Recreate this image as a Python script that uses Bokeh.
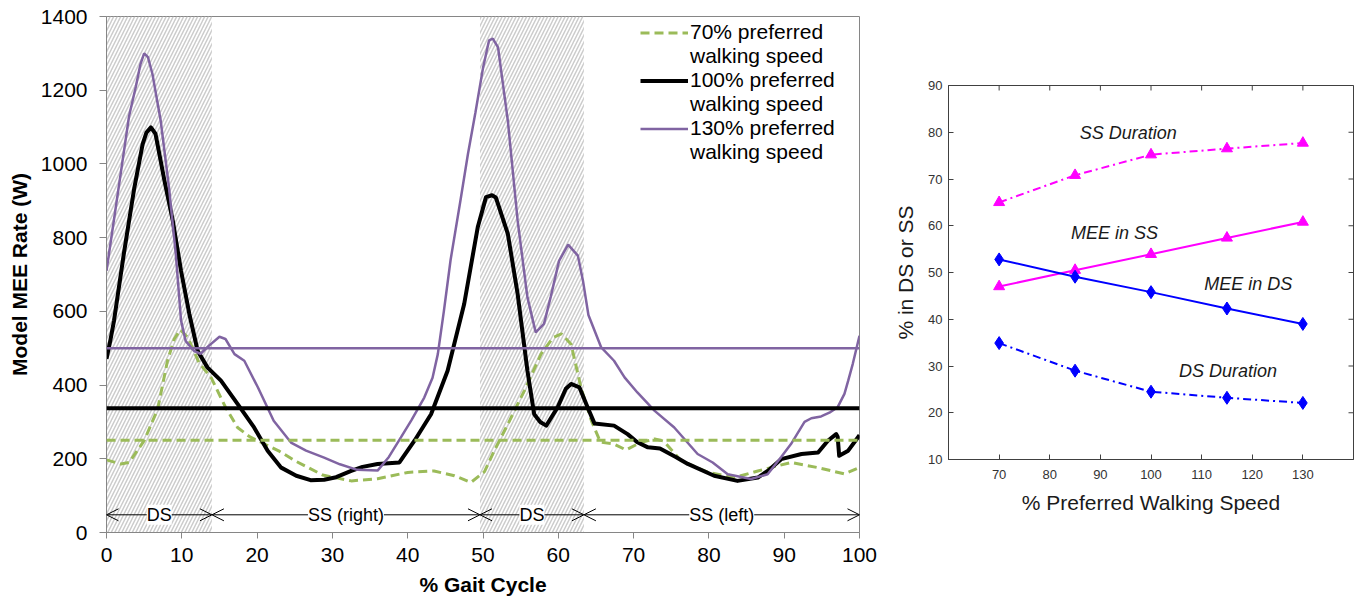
import math
from bokeh.plotting import figure
from bokeh.models import (Span, BoxAnnotation, Arrow, OpenHead, Label, Legend, LegendItem,
                          FixedTicker, Range1d, Spacer)
from bokeh.layouts import row, column
from bokeh.embed import file_html
from bokeh.resources import INLINE

FONT = "Liberation Sans"

# ---------------- Left chart data: Model MEE rate over the gait cycle ----------------
gait_x_130 = [0, 1, 2, 3, 3.9, 4.5, 5.0, 5.5, 6.1, 7.2, 8.3, 9.2, 9.9, 10.5, 11.6, 12.5, 13.5,
              15.0, 15.8, 17.0, 18.3, 20.1, 22.2, 24.5, 26.5, 28.9, 31.0, 33.3, 36.0, 37.5,
              39.1, 40.5, 42.2, 43.3, 44.0, 44.8, 45.7, 47.0, 48.0, 49.0, 50.0, 50.8, 51.3,
              52.0, 53.3, 54.6, 55.9, 57.0, 58.1, 59.0, 60.1, 61.3, 62.6, 63.3, 64.0, 65.7,
              67.4, 68.8, 70.5, 72.8, 75.4, 78.5, 80.5, 82.5, 85.6, 87.8, 89.6, 90.9, 92.7,
              93.6, 94.9, 96.0, 97.1, 98.0, 98.5, 99.1, 100]
mee_130 = [710, 850, 990, 1130, 1210, 1270, 1300, 1290, 1244, 1117, 936, 756, 575, 520, 493,
           485, 505, 531, 525, 484, 466, 394, 303, 244, 222, 203, 185, 170, 168, 205,
           258, 305, 366, 420, 484, 600, 740, 900, 1027, 1140, 1260, 1335, 1340,
           1316, 1117, 846, 638, 543, 566, 640, 737, 781, 751, 680, 590, 502,
           466, 421, 380, 330, 285, 213, 190, 158, 145, 158, 205, 240, 300,
           310, 315, 325, 340, 376, 412, 457, 534]

gait_x_100 = [0, 0.5, 1.0, 2.3, 3.7, 4.8, 5.3, 5.9, 6.5, 7.7, 8.8, 9.9, 11.0, 12.1, 13.4, 15.2,
              17.4, 19.6, 21.4, 23.2, 25.2, 27.1, 28.9, 30.5, 32.5, 34.0, 36.0, 38.9, 40.9,
              43.1, 45.3, 47.5, 49.3, 50.4, 51.2, 51.7, 53.3, 54.6, 55.9, 56.8, 57.6, 58.4,
              59.9, 61.0, 61.7, 62.8, 63.9, 64.8, 67.4, 69.2, 70.5, 71.9, 73.5, 75.6, 77.2,
              80.7, 83.8, 86.5, 88.0, 89.6, 92.3, 94.5, 95.8, 96.9, 97.1, 97.3, 98.5, 100]
mee_100 = [471, 520, 575, 756, 936, 1054, 1085, 1099, 1082, 954, 846, 710, 593, 493, 448, 412,
           349, 285, 222, 176, 154, 142, 143, 150, 167, 178, 186, 190, 249,
           321, 439, 620, 828, 910, 915, 909, 810, 647, 439, 321, 300, 290,
           339, 390, 403, 394, 339, 296, 290, 267, 245, 231, 228, 205, 186,
           154, 140, 149, 170, 199, 213, 217, 249, 267, 260, 208, 222, 264]

gait_x_70 = [0, 1.9, 3.0, 5.0, 6.8, 8.1, 9.0, 9.8, 10.8, 12.3, 13.9, 15.8, 17.4, 19.0, 21.4,
             23.0, 25.0, 28.7, 32.5, 36.0, 40.0, 43.5, 46.2, 48.4, 50.2, 51.5, 53.3, 55.5,
             57.7, 59.3, 60.4, 61.7, 63.0, 64.4, 65.6, 67.4, 69.0, 70.8, 72.8, 74.0, 76.3,
             79.9, 83.4, 86.5, 90.9, 94.5, 98.0, 100]
mee_70 = [197, 186, 190, 249, 335, 466, 525, 550, 529, 460, 420, 340, 285, 260, 236,
          220, 195, 156, 140, 146, 163, 167, 154, 136, 165, 222, 294, 385,
          484, 529, 539, 511, 394, 303, 245, 240, 224, 243, 254, 248, 195,
          163, 149, 167, 190, 176, 159, 176]

mean_70 = 250
mean_100 = 337
mean_130 = 500

phase_bounds = [0, 14, 49.6, 63.4, 100]
phase_labels = ["DS", "SS (right)", "DS", "SS (left)"]
ds_phases = [(0, 14), (49.6, 63.4)]
phase_arrow_level = 48

left_x_ticks = [0, 10, 20, 30, 40, 50, 60, 70, 80, 90, 100]
left_y_ticks = [0, 200, 400, 600, 800, 1000, 1200, 1400]

# ---------------- Right chart data ----------------
speed = [70, 85, 100, 115, 130]
ss_duration = [65.0, 70.8, 75.2, 76.5, 77.7]
mee_in_ss = [47.0, 50.5, 53.9, 57.4, 60.8]
mee_in_ds = [52.8, 49.1, 45.8, 42.3, 39.0]
ds_duration = [34.9, 29.0, 24.5, 23.2, 22.1]
right_x_ticks = [70, 80, 90, 100, 110, 120, 130]
right_y_ticks = [10, 20, 30, 40, 50, 60, 70, 80, 90]

GREEN = "#9BBB59"
PURPLE = "#8064A2"
GRAYAX = "#868686"

# ================= Left figure =================
p1 = figure(width=880, height=598, x_range=Range1d(0, 100), y_range=Range1d(0, 1400),
            output_backend="svg", toolbar_location=None,
            min_border_left=106, min_border_right=21, min_border_top=16, min_border_bottom=66)
p1.xgrid.visible = False
p1.ygrid.visible = False
p1.outline_line_color = GRAYAX
p1.background_fill_color = "white"

for (a, b) in ds_phases:
    p1.add_layout(BoxAnnotation(left=a, right=b, fill_alpha=0, line_alpha=0,
                                hatch_pattern="/", hatch_color="#cccccc", hatch_scale=7,
                                hatch_weight=1.5, level="underlay"))

r70 = p1.line(gait_x_70, mee_70, line_color=GREEN, line_width=3, line_dash="9 5")
r100 = p1.line(gait_x_100, mee_100, line_color="black", line_width=4, line_join="round")
r130 = p1.line(gait_x_130, mee_130, line_color=PURPLE, line_width=2.5)

p1.add_layout(Span(location=mean_70, dimension="width", line_color=GREEN, line_width=3, line_dash="9 5"))
p1.add_layout(Span(location=mean_100, dimension="width", line_color="black", line_width=4))
p1.add_layout(Span(location=mean_130, dimension="width", line_color=PURPLE, line_width=2.5))

for i, lab in enumerate(phase_labels):
    a, b = phase_bounds[i], phase_bounds[i + 1]
    p1.add_layout(Arrow(x_start=a, x_end=b, y_start=phase_arrow_level, y_end=phase_arrow_level,
                        line_width=1, line_color="black",
                        start=OpenHead(size=12, line_width=1),
                        end=OpenHead(size=12, line_width=1)))
    p1.add_layout(Label(x=(a + b) / 2, y=phase_arrow_level, text=lab, text_align="center",
                        text_baseline="middle", text_font=FONT, text_font_size="18px",
                        background_fill_color="white", text_color="black"))

for ax in (p1.xaxis[0], p1.yaxis[0]):
    ax.axis_line_color = GRAYAX
    ax.major_tick_line_color = GRAYAX
    ax.minor_tick_line_color = None
    ax.major_tick_in = 0
    ax.major_label_text_font = FONT
    ax.major_label_text_font_size = "21px"
    ax.major_label_text_color = "black"
    ax.axis_label_text_font = FONT
    ax.axis_label_text_font_size = "21px"
    ax.axis_label_text_font_style = "bold"
    ax.axis_label_text_color = "black"
p1.xaxis.ticker = FixedTicker(ticks=left_x_ticks)
p1.yaxis.ticker = FixedTicker(ticks=left_y_ticks)
p1.xaxis.major_tick_out = 6
p1.yaxis.major_tick_out = 7
p1.xaxis.major_label_standoff = 9
p1.yaxis.major_label_standoff = 12
p1.xaxis.axis_label = "% Gait Cycle"
p1.yaxis.axis_label = "Model MEE Rate (W)"
p1.xaxis.axis_label_standoff = 8
p1.yaxis.axis_label_standoff = 7

dummy = p1.line(x=[], y=[], line_alpha=0)
legend = Legend(items=[
    LegendItem(label="70% preferred", renderers=[r70]),
    LegendItem(label="walking speed", renderers=[dummy]),
    LegendItem(label="100% preferred", renderers=[r100]),
    LegendItem(label="walking speed", renderers=[dummy]),
    LegendItem(label="130% preferred", renderers=[r130]),
    LegendItem(label="walking speed", renderers=[dummy]),
], location=(534, 368), orientation="vertical", background_fill_alpha=0, border_line_alpha=0,
    padding=0, margin=0, spacing=0, glyph_width=48, glyph_height=23, label_height=23,
    label_standoff=2, label_text_font=FONT, label_text_font_size="21px",
    label_text_color="black")
p1.add_layout(legend)

# ================= Right figure =================
DARK = "#404040"
p2 = figure(width=479, height=456, x_range=Range1d(60, 140), y_range=Range1d(10, 90),
            output_backend="svg", toolbar_location=None,
            min_border_left=68, min_border_right=6, min_border_top=16, min_border_bottom=66)
p2.xgrid.visible = False
p2.ygrid.visible = False
p2.outline_line_color = DARK
p2.outline_line_width = 1

p2.line(speed, ss_duration, line_color="#ff00ff", line_width=2, line_dash="8 4 2 4")
p2.scatter(speed, ss_duration, marker="triangle", size=11, color="#ff00ff")
p2.line(speed, mee_in_ss, line_color="#ff00ff", line_width=2)
p2.scatter(speed, mee_in_ss, marker="triangle", size=11, color="#ff00ff")
p2.line(speed, mee_in_ds, line_color="#0000ff", line_width=2)
p2.scatter(speed, mee_in_ds, marker="diamond", size=13, color="#0000ff")
p2.line(speed, ds_duration, line_color="#0000ff", line_width=2, line_dash="8 4 2 4")
p2.scatter(speed, ds_duration, marker="diamond", size=13, color="#0000ff")

# inward ticks on the top and right edges of the box
x_end = p2.x_range.end
y_end = p2.y_range.end
p2.scatter(right_x_ticks, [y_end] * len(right_x_ticks), marker="dash", size=10,
           angle=math.pi / 2, line_color=DARK, line_width=1)
p2.scatter([x_end] * len(right_y_ticks), right_y_ticks, marker="dash", size=10,
           line_color=DARK, line_width=1)

for txt, x, y in [("SS Duration", 95.5, 79.8), ("MEE in SS", 92.8, 58.4),
                  ("MEE in DS", 119.2, 47.5), ("DS Duration", 115.2, 28.9)]:
    p2.add_layout(Label(x=x, y=y, text=txt, text_align="center", text_baseline="middle",
                        text_font=FONT, text_font_size="18px", text_font_style="italic",
                        text_color="#1a1a1a"))

p2.xaxis.ticker = FixedTicker(ticks=right_x_ticks)
p2.yaxis.ticker = FixedTicker(ticks=right_y_ticks)
p2.xaxis.axis_label = "% Preferred Walking Speed"
p2.yaxis.axis_label = "% in DS or SS"
for ax in (p2.xaxis[0], p2.yaxis[0]):
    ax.axis_line_color = DARK
    ax.major_tick_line_color = DARK
    ax.minor_tick_line_color = None
    ax.major_tick_in = 5
    ax.major_tick_out = 0
    ax.major_label_text_font = FONT
    ax.major_label_text_font_size = "13px"
    ax.major_label_text_color = "#333333"
    ax.axis_label_text_font = FONT
    ax.axis_label_text_font_size = "21px"
    ax.axis_label_text_font_style = "normal"
    ax.axis_label_text_color = "#1a1a1a"
p2.xaxis.major_label_standoff = 10
p2.yaxis.major_label_standoff = 6
p2.xaxis.axis_label_standoff = 9
p2.yaxis.axis_label_standoff = 8

right_col = column(Spacer(width=479, height=69), p2, spacing=0)
layout = row(p1, right_col, spacing=0)
open("out.html", "w").write(file_html(layout, INLINE))
